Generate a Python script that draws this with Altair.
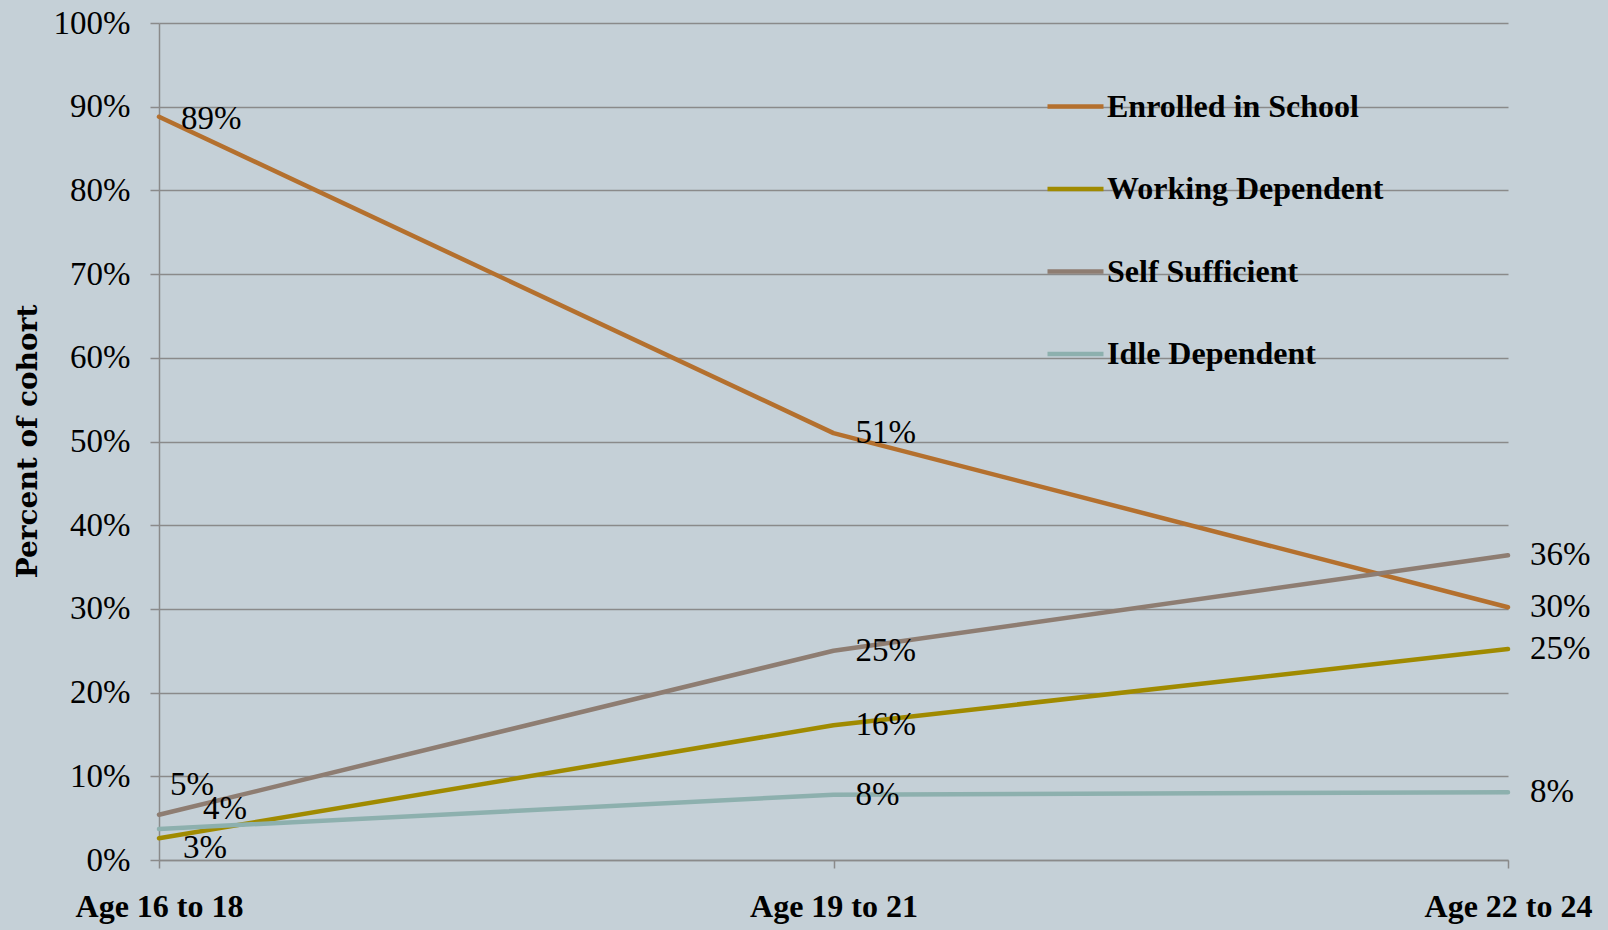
import altair as alt
import pandas as pd

# Age bands on the horizontal axis
categories = ["Age 16 to 18", "Age 19 to 21", "Age 22 to 24"]

# Status groups, in legend order
series = ["Enrolled in School", "Working Dependent", "Self Sufficient", "Idle Dependent"]

# Share of cohort in each status, per age band
enrolled = [0.888, 0.510, 0.302]
working = [0.026, 0.161, 0.252]
self_sufficient = [0.054, 0.250, 0.364]
idle = [0.037, 0.078, 0.081]

colors = ["#B4702E", "#A08A00", "#8E7D72", "#8DB0AE"]

rows = []
for name, vals in zip(series, [enrolled, working, self_sufficient, idle]):
    for i, (age, v) in enumerate(zip(categories, vals)):
        rows.append({"group": name, "age": age, "share": v, "step": i})
df = pd.DataFrame(rows)

SERIF = "Liberation Serif"
GRID = "#8A8A8A"

x_enc = alt.X(
    "age:N",
    scale=alt.Scale(type="point", domain=categories, padding=0),
    axis=alt.Axis(
        title=None,
        labelAngle=0,
        labelFont=SERIF,
        labelFontSize=32,
        labelFontWeight="bold",
        labelColor="#000000",
        labelPadding=23,
        labelOverlap=False,
        labelBound=False,
        labelFlush=False,
        tickSize=8,
        tickWidth=1.5,
        tickColor=GRID,
        domainColor=GRID,
        domainWidth=1.5,
        grid=False,
    ),
)

y_enc = alt.Y(
    "share:Q",
    scale=alt.Scale(domain=[0, 1], nice=False),
    axis=alt.Axis(
        values=[i / 10 for i in range(11)],
        format=".0%",
        labelFont=SERIF,
        labelFontSize=33,
        labelColor="#000000",
        labelPadding=20,
        tickSize=9,
        tickWidth=1.5,
        tickColor=GRID,
        domainColor=GRID,
        domainWidth=1.5,
        grid=True,
        gridColor=GRID,
        gridWidth=1.5,
        title="Percent of cohort",
        titleFont="DejaVu Serif",
        titleFontSize=28,
        titleFontWeight="bold",
        titleColor="#000000",
        titleAngle=270,
        titleAlign="center",
        titleBaseline="middle",
        titleX=-131,
        titleY=418,
    ),
)

lines = (
    alt.Chart(df)
    .mark_line(strokeWidth=4.5, strokeCap="round", strokeJoin="round")
    .encode(
        x=x_enc,
        y=y_enc,
        order="step:Q",
        color=alt.Color(
            "group:N",
            scale=alt.Scale(domain=series, range=colors),
            legend=alt.Legend(
                title=None,
                orient="none",
                legendX=886,
                legendY=53,
                padding=0,
                symbolType="stroke",
                symbolSize=3136,
                symbolStrokeWidth=4.5,
                labelFont=SERIF,
                labelFontSize=32,
                labelFontWeight="bold",
                labelColor="#000000",
                labelOffset=1,
                labelLimit=0,
                rowPadding=35.5,
            ),
        ),
    )
)

label_base = alt.Chart(df).encode(
    x=alt.X("age:N", scale=alt.Scale(type="point", domain=categories, padding=0)),
    y=alt.Y("share:Q", scale=alt.Scale(domain=[0, 1], nice=False)),
    text=alt.Text("share:Q", format=".0%"),
)

text_style = dict(font=SERIF, fontSize=33, color="#000000", align="left", baseline="middle")

# Labels for the two later age bands sit just right of each point
labels = label_base.mark_text(dx=22, **text_style).transform_filter(
    alt.datum.age != categories[0]
)

# The first age band's labels are nudged apart so they do not collide
first_nudges = [
    ("Enrolled in School", 22, 2),
    ("Working Dependent", 24, 10),
    ("Self Sufficient", 11, -30),
    ("Idle Dependent", 44, -20),
]
first_labels = [
    label_base.mark_text(dx=dx, dy=dy, **text_style).transform_filter(
        (alt.datum.age == categories[0]) & (alt.datum.group == name)
    )
    for name, dx, dy in first_nudges
]

chart = (
    alt.layer(lines, labels, *first_labels)
    .properties(
        width=1349,
        height=837,
        autosize="none",
        padding={"left": 159, "top": 23, "right": 100, "bottom": 70},
        background="#C5D0D7",
    )
    .configure_view(stroke=None)
)

chart.save("out.html", embed_options={"renderer": "svg", "actions": False})
